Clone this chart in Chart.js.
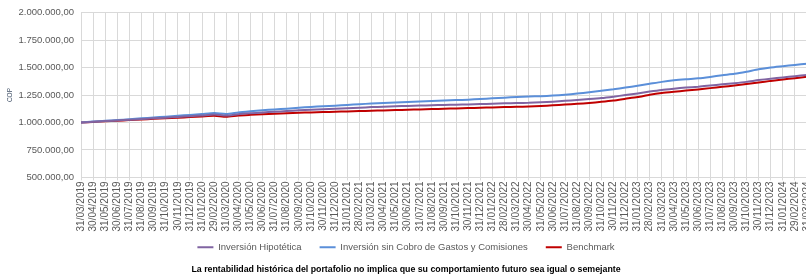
<!DOCTYPE html>
<html>
<head>
<meta charset="utf-8">
<script src="https://cdn.jsdelivr.net/npm/chart.js@4.4.1/dist/chart.umd.min.js"></script>
<style>
  html, body { margin: 0; padding: 0; background: #fff; overflow: hidden; }
  #wrap { width: 812px; height: 280px; }
</style>
</head>
<body>
<div id="wrap"><canvas id="myChart"></canvas></div>
<script>
const fechas = [
  '31/03/2019', '30/04/2019', '31/05/2019', '30/06/2019', '31/07/2019', '31/08/2019',
  '30/09/2019', '31/10/2019', '30/11/2019', '31/12/2019', '31/01/2020', '29/02/2020',
  '31/03/2020', '30/04/2020', '31/05/2020', '30/06/2020', '31/07/2020', '31/08/2020',
  '30/09/2020', '31/10/2020', '30/11/2020', '31/12/2020', '31/01/2021', '28/02/2021',
  '31/03/2021', '30/04/2021', '31/05/2021', '30/06/2021', '31/07/2021', '31/08/2021',
  '30/09/2021', '31/10/2021', '30/11/2021', '31/12/2021', '31/01/2022', '28/02/2022',
  '31/03/2022', '30/04/2022', '31/05/2022', '30/06/2022', '31/07/2022', '31/08/2022',
  '30/09/2022', '31/10/2022', '30/11/2022', '31/12/2022', '31/01/2023', '28/02/2023',
  '31/03/2023', '30/04/2023', '31/05/2023', '30/06/2023', '31/07/2023', '31/08/2023',
  '30/09/2023', '31/10/2023', '30/11/2023', '31/12/2023', '31/01/2024', '29/02/2024',
  '31/03/2024'
];

const inversionHipotetica = [
  1000000, 1006000, 1013000, 1019000, 1025000, 1031000, 1038000, 1044000, 1051000, 1057000,
  1064000, 1072000, 1063000, 1076000, 1084000, 1091000, 1098000, 1104000, 1111000, 1116000,
  1120000, 1125000, 1130000, 1135000, 1140000, 1144000, 1148000, 1151000, 1154000, 1157000,
  1160000, 1162000, 1165000, 1168000, 1171000, 1175000, 1177000, 1179000, 1184000, 1190000,
  1197000, 1205000, 1213000, 1222000, 1235000, 1250000, 1265000, 1282000, 1297000, 1308000,
  1318000, 1326000, 1337000, 1348000, 1358000, 1370000, 1386000, 1399000, 1410000, 1422000,
  1432000
];

const inversionSinCobro = [
  1000000, 1008000, 1015000, 1022000, 1030000, 1038000, 1045000, 1053000, 1061000, 1069000,
  1077000, 1086000, 1078000, 1092000, 1102000, 1111000, 1119000, 1126000, 1134000, 1142000,
  1148000, 1153000, 1160000, 1166000, 1173000, 1177000, 1181000, 1186000, 1191000, 1196000,
  1200000, 1204000, 1208000, 1214000, 1220000, 1226000, 1232000, 1236000, 1240000, 1245000,
  1253000, 1263000, 1276000, 1289000, 1302000, 1318000, 1334000, 1352000, 1370000, 1384000,
  1394000, 1402000, 1415000, 1430000, 1443000, 1462000, 1484000, 1500000, 1512000, 1524000,
  1535000
];

const benchmark = [
  1000000, 1005000, 1011000, 1016000, 1022000, 1027000, 1033000, 1038000, 1044000, 1049000,
  1055000, 1061000, 1052000, 1064000, 1070000, 1075000, 1080000, 1084000, 1088000, 1092000,
  1095000, 1098000, 1101000, 1104000, 1107000, 1110000, 1113000, 1116000, 1119000, 1122000,
  1125000, 1128000, 1131000, 1134000, 1137000, 1141000, 1143000, 1146000, 1150000, 1156000,
  1163000, 1170000, 1178000, 1188000, 1200000, 1216000, 1232000, 1252000, 1268000, 1280000,
  1291000, 1301000, 1313000, 1325000, 1337000, 1350000, 1364000, 1379000, 1391000, 1404000,
  1416000
];

const yMin = 500000;
const yMax = 2000000;
const yPaso = 250000;

function formatoCOP(v) {
  const partes = Math.round(v).toString().replace(/\B(?=(\d{3})+(?!\d))/g, '.');
  return partes + ',00';
}

const fuente = "'Liberation Sans', Arial, sans-serif";
const gris = '#595959';

// la leyenda usa padding 18 para separar los items, pero ocupa menos alto
const ajusteLeyenda = {
  id: 'ajusteLeyenda',
  afterInit(chart) {
    const fitOriginal = chart.legend.fit;
    chart.legend.fit = function () {
      fitOriginal.call(this);
      this.height = 30;
    };
  },
  afterLayout(chart) {
    chart.legend.top -= 8;
    chart.legend.bottom -= 8;
  }
};

const ctx = document.getElementById('myChart').getContext('2d');
const myChart = new Chart(ctx, {
  type: 'line',
  data: {
    labels: fechas,
    datasets: [
      {
        label: 'Inversión Hipotética',
        data: inversionHipotetica,
        borderColor: '#8064A2',
        backgroundColor: '#8064A2',
        borderWidth: 2,
        pointRadius: 0,
        tension: 0.2
      },
      {
        label: 'Inversión sin Cobro de Gastos y Comisiones',
        data: inversionSinCobro,
        borderColor: '#5B8FD9',
        backgroundColor: '#5B8FD9',
        borderWidth: 2,
        pointRadius: 0,
        tension: 0.2
      },
      {
        label: 'Benchmark',
        data: benchmark,
        borderColor: '#C00000',
        backgroundColor: '#C00000',
        borderWidth: 2,
        pointRadius: 0,
        tension: 0.2
      }
    ]
  },
  plugins: [ajusteLeyenda],
  options: {
    responsive: true,
    maintainAspectRatio: false,
    animation: false,
    layout: { padding: { top: 7, left: 0, right: 0, bottom: 3 } },
    scales: {
      x: {
        offset: false,
        afterFit: function (scale) { scale.paddingRight = 5; },
        grid: { color: '#d9d9d9', lineWidth: 1, tickLength: 3, drawTicks: true },
        border: { color: '#d9d9d9' },
        ticks: {
          autoSkip: false,
          maxRotation: 90,
          minRotation: 90,
          color: gris,
          padding: 1,
          font: { family: fuente, size: 10 }
        }
      },
      y: {
        min: yMin,
        max: yMax,
        afterFit: function (scale) { scale.width = 81; },
        grid: { color: '#d9d9d9', lineWidth: 1, drawTicks: false },
        border: { display: false },
        ticks: {
          stepSize: yPaso,
          color: gris,
          padding: 7,
          font: { family: fuente, size: 9.5 },
          callback: function (v) { return formatoCOP(v); }
        },
        title: {
          display: true,
          text: 'COP',
          color: '#44546A',
          padding: { top: 6, bottom: 0 },
          font: { family: fuente, size: 6.5 }
        }
      }
    },
    plugins: {
      legend: {
        position: 'bottom',
        labels: {
          color: gris,
          boxWidth: 16,
          boxHeight: 2,
          padding: 18,
          font: { family: fuente, size: 9.5 },
          generateLabels: function (chart) {
            const items = Chart.defaults.plugins.legend.labels.generateLabels(chart);
            items.forEach(function (it) { it.lineWidth = 0; });
            return items;
          }
        }
      },
      title: {
        display: true,
        position: 'bottom',
        text: 'La rentabilidad histórica del portafolio no implica que su comportamiento futuro sea igual o semejante',
        color: '#000',
        padding: { top: 2, bottom: 2 },
        font: { family: fuente, size: 8.8, weight: 'bold' }
      },
      tooltip: { enabled: false }
    }
  }
});
</script>
</body>
</html>
